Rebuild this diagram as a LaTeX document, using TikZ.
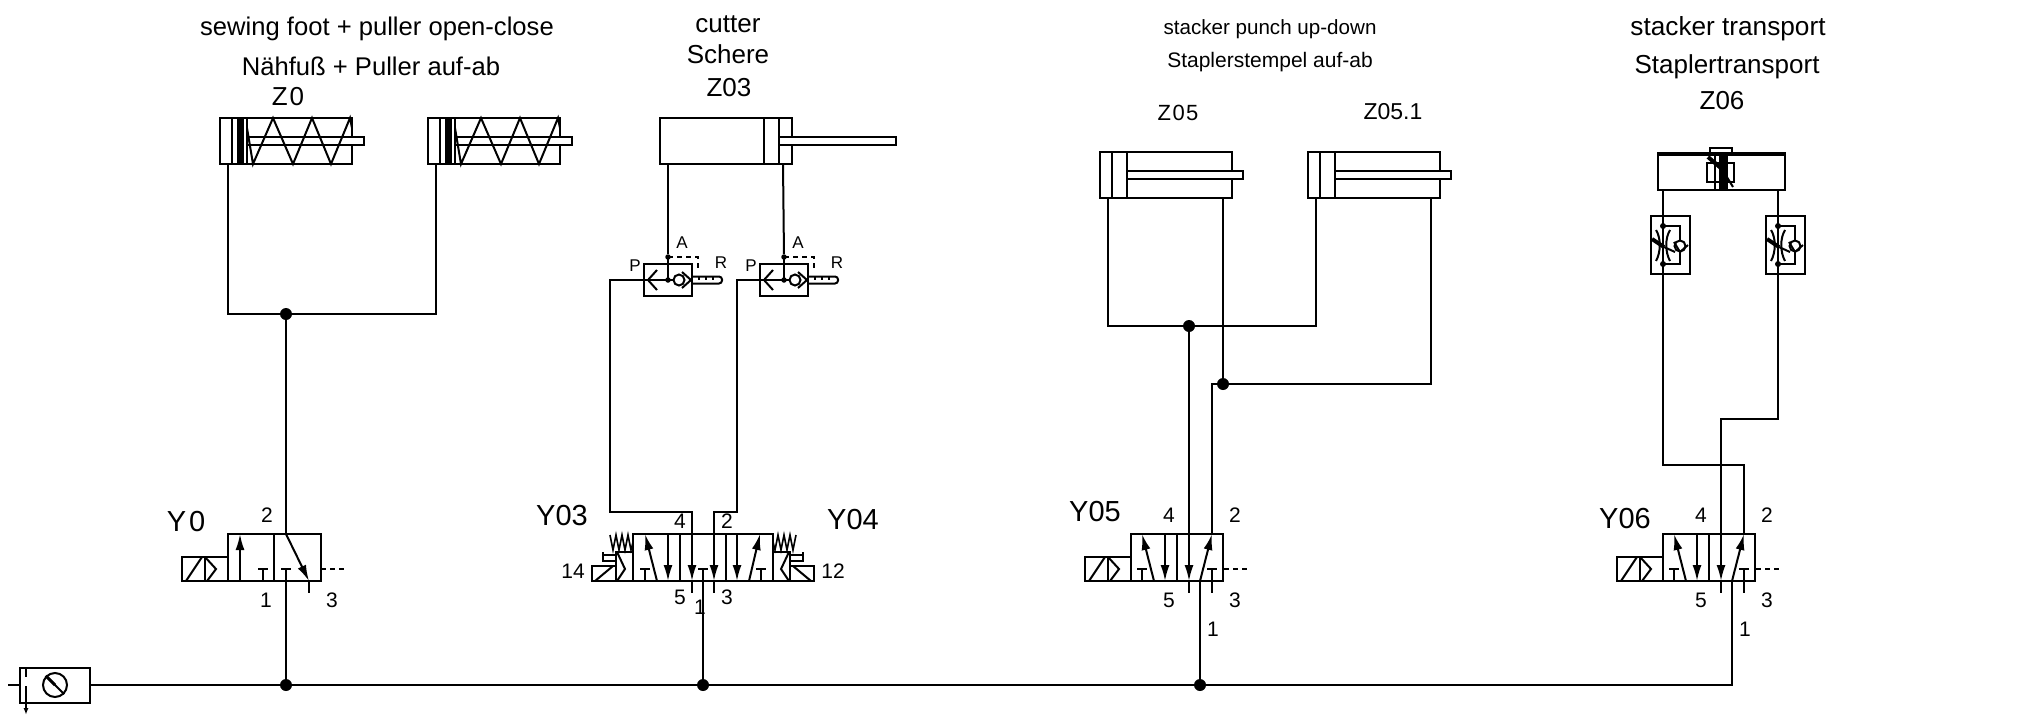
\documentclass[tikz,border=0pt]{standalone}
\usepackage{fontspec}
\setmainfont{Liberation Sans}
\usepackage{tikz}
\usetikzlibrary{arrows.meta}

\tikzset{
    pipe/.style={line width=2pt, line join=miter},
    thin pipe/.style={line width=1.6pt},
    flow/.style={pipe, -{Latex[length=16pt, width=9pt]}},
    dot/.style={circle, fill=black, inner sep=0pt, minimum size=#1},
    dot/.default=12pt,
    dashes/.style={pipe, dash pattern=on 5pt off 4pt},
    title/.style={inner sep=0pt, font=\fontsize{#1}{#1}\selectfont},
    title/.default=24,
    port/.style={inner sep=0pt, font=\fontsize{21}{21}\selectfont},
    tag/.style={inner sep=0pt, font=\fontsize{29}{29}\selectfont},
    letter/.style={inner sep=0pt, font=\fontsize{17}{17}\selectfont},
    % cylinder: first bar, second bar, end of the rod
    pics/cyl/.style n args={3}{code={
        \draw[pipe] (0,0) rectangle (132,46);
        \draw[pipe] (#1,0) -- (#1,46);
        \draw[pipe] (#2,0) -- (#2,46);
        \draw[pipe, fill=white] (#2,19) rectangle (#3,27);
        \coordinate (-a) at (8,46);
        \coordinate (-b) at (123,46);
    }},
    pics/spring/.style={code={
        \fill (17,0) rectangle (24,46);
        \draw[pipe] (27,10) -- (33,46) -- (53,0) -- (73,46) -- (92,0) -- (111,46) -- (130,0) -- (132,10);
    }},
    pics/t/.style={code={
        \draw[thin pipe] (-5,35) -- (5,35);
        \draw[thin pipe] (0,35) -- (0,47);
    }},
    % solenoid and exhaust of a single valve
    pics/coil/.style={code={
        \draw[pipe] (0,23) -- (-46.5,23) -- (-46.5,47) -- (0,47);
        \draw[pipe] (-23,23) -- (-23,47);
        \draw[pipe] (-42,47) -- (-26,23);
        \draw[pipe] (-23,23) -- (-12,35) -- (-21,47);
        \draw[dashes] (93,35) -- (118,35);
    }},
    pics/three/.style={code={
        \draw[pipe] (0,0) rectangle (93,47);
        \draw[pipe] (46,0) -- (46,47);
        \pic at (0,0) {coil};
        \draw[flow] (12,47) -- (12,0);
        \pic at (35,0) {t};
        \pic at (58,0) {t};
        \draw[flow] (58,0) -- (81,47);
        \draw[pipe] (81,47) -- (81,59);
        \coordinate (-a) at (58,0);
        \coordinate (-p) at (58,47);
    }},
    pics/five/.style={code={
        \draw[pipe] (0,0) rectangle (92,47);
        \draw[pipe] (46,0) -- (46,47);
        \pic at (0,0) {coil};
        \draw[flow] (23,47) -- (11,0);
        \pic at (11,0) {t};
        \draw[flow] (34,0) -- (34,47);
        \draw[flow] (58,0) -- (58,47);
        \draw[pipe] (58,47) -- (58,59);
        \draw[flow] (69,47) -- (81,0);
        \pic at (81,0) {t};
        \draw[thin pipe] (81,47) -- (81,59);
        \coordinate (-a) at (58,0);
        \coordinate (-b) at (81,0);
        \coordinate (-p) at (69,47);
    }},
    % pilot head of the double valve
    pics/head/.style={code={
        \draw[pipe] (0,18) -- (-17,18) -- (-17,47);
        \draw[pipe] (-17,32) -- (-41,32) -- (-41,47) -- (0,47);
        \draw[pipe] (-38,47) -- (-20,32);
        \draw[pipe] (-16,18) -- (-8,35) -- (-16,47);
        \draw[pipe] (-30,18) -- (-30,28);
        \draw[pipe] (-30,21) -- (-17,21);
        \draw[pipe] (-30,27) -- (-17,27);
        \draw[thin pipe] (-23,1) -- (-20,16) -- (-17,1) -- (-14,16) -- (-11,1) -- (-8,16) -- (-5,1) -- (-2,16) -- (0,8);
    }},
    pics/double/.style={code={
        \draw[pipe] (0,47) -- (0,0) -- (140,0) -- (140,47) -- cycle;
        \draw[pipe] (47,0) -- (47,47);
        \draw[pipe] (93,0) -- (93,47);
        \pic at (0,0) {head};
        \pic[xscale=-1] at (140,0) {head};
        \draw[flow] (24,47) -- (12,0);
        \pic at (12,0) {t};
        \draw[flow] (35,0) -- (35,47);
        \draw[flow] (59,0) -- (59,47);
        \draw[pipe] (59,47) -- (59,59);
        \pic at (70,0) {t};
        \draw[flow] (81,0) -- (81,47);
        \draw[pipe] (81,47) -- (81,59);
        \draw[flow] (104,0) -- (104,47);
        \draw[flow] (116,47) -- (127,0);
        \pic at (128,0) {t};
        \coordinate (-a) at (59,0);
        \coordinate (-b) at (81,0);
        \coordinate (-p) at (70,47);
    }},
    % quick exhaust valve
    pics/quick/.style={code={
        \draw[pipe] (0,0) rectangle (48,32);
        \draw[pipe] (0,16) -- (29,16);
        \draw[pipe] (13,6) -- (4,16) -- (13,26);
        \draw[pipe] (24,-7) -- (24,16);
        \node[dot=5.5pt] (-top) at (24,-7) {};
        \node[dot=5.5pt] (-mid) at (24,16) {};
        \draw[pipe] (35,16) circle (5.5);
        \draw[pipe] (38,8) -- (47,16) -- (38,24);
        \draw[dashes] (24,-7) -- (54,-7) -- (54,5);
        \draw[pipe, rounded corners=3pt] (48,12.5) -- (78,12.5) -- (78,19.5) -- (48,19.5);
        \foreach \tick in {55,62,69} {
            \draw[thin pipe] (\tick,12.5) -- (\tick,16);
        }
        \coordinate (-a) at (0,16);
    }},
    % throttle with bypass
    pics/throttle/.style={code={
        \draw[pipe] (0,0) rectangle (39,58);
        \draw[pipe] (12,0) -- (12,58);
        \draw[pipe] (12,10) -- (29,10) -- (29,24.5);
        \draw[pipe] (29,35.5) -- (29,48) -- (12,48);
        \node[dot=6pt] (-top) at (12,10) {};
        \node[dot=6pt] (-bot) at (12,48) {};
        \draw[pipe] (29,30) circle (5.5);
        \draw[pipe] (23,26) -- (29,36) -- (37,29);
        \draw[pipe] (5,14) .. controls (10,22) and (10,36) .. (5,45);
        \draw[pipe] (19,14) .. controls (14,22) and (14,36) .. (19,45);
        \draw[line width=4pt] (1,23) -- (13,31);
        \draw[pipe] (13,31) -- (24,36);
        \coordinate (-a) at (12,0);
        \coordinate (-b) at (12,58);
    }},
}

\begin{document}
\begin{tikzpicture}[x=1pt, y=-1pt]
    \useasboundingbox (0,0) rectangle (2044,716);

    % Headings
    \node[title=25.6] (t0a) at (377,29) {sewing foot + puller open-close};
    \node[title=25.6] (t0b) at (371,66) {Nähfuß + Puller auf-ab};
    \node[title=26] (t0c) at (288,97) {Z\kern2pt 0};
    \node[title=26] (t3a) at (728,24) {cutter};
    \node[title=26] (t3b) at (728,54) {Schere};
    \node[title=26] (t3c) at (729,88) {Z03};
    \node[title=20.6] (t5a) at (1270,29) {stacker punch up-down};
    \node[title=21] (t5b) at (1270,62) {Staplerstempel auf-ab};
    \node[title=22] (t5c) at (1178,113) {Z\kern1.5pt 0\kern1.5pt 5};
    \node[title=23] (t5d) at (1393,112) {Z05.1};
    \node[title=26.2] (t6a) at (1728,29) {stacker transport};
    \node[title=26] (t6b) at (1727,67) {Staplertransport};
    \node[title=26] (t6c) at (1722,101) {Z06};

    % Cylinders
    \pic (Za) at (220,118) {cyl={12}{27}{144}};
    \pic at (220,118) {spring};
    \pic (Zb) at (428,118) {cyl={12}{27}{144}};
    \pic at (428,118) {spring};
    \pic (Zc) at (660,118) {cyl={104}{119}{236}};
    \pic (Zd) at (1100,152) {cyl={12}{27}{143}};
    \pic (Ze) at (1308,152) {cyl={12}{27}{143}};

    % Stacker transport cylinder
    \draw[pipe] (1658,154) rectangle (1785,190);
    \draw[line width=3.5pt] (1657,154) -- (1786,154);
    \draw[pipe] (1710,154) -- (1710,148) -- (1732,148) -- (1732,154);
    \draw[pipe] (1707,163) rectangle (1734,182);
    \draw[pipe] (1715,154) -- (1715,190);
    \draw[line width=7pt] (1722,154) -- (1722,190);
    \draw[pipe] (1727,154) -- (1727,190);
    \draw[line width=4pt] (1708,157) -- (1722,169);
    \draw[pipe] (1722,169) -- (1733,187);
    \coordinate (Zf-a) at (1663,190);
    \coordinate (Zf-b) at (1778,190);

    % Exhaust and throttle valves
    \pic (Qa) at (644,264) {quick};
    \pic (Qb) at (760,264) {quick};
    \pic (Ta) at (1651,216) {throttle};
    \pic (Tb) at (1766,216) {throttle};

    % Directional valves
    \pic (Ya) at (228,534) {three};
    \pic (Yb) at (633,534) {double};
    \pic (Yc) at (1131,534) {five};
    \pic (Yd) at (1663,534) {five};

    % Maintenance unit
    \node[draw, pipe, minimum width=70pt, minimum height=35pt, inner sep=0pt] (src) at (55,685) {};
    \node[draw, pipe, circle, minimum size=24pt, inner sep=0pt] (gauge) at (55,685) {};
    \draw[pipe] (gauge.north west) -- (gauge.south east);
    \draw[line width=3pt] (gauge.north west) -- (gauge.center);
    \coordinate (inlet) at (8,685);
    \coordinate (drainA) at (26,667);
    \coordinate (drainB) at (26,677);
    \coordinate (drainC) at (26,686);
    \coordinate (drainD) at (26,715);
    \draw[pipe] (inlet) -- (inlet -| src.west);
    \draw[pipe] (drainA) -- (drainB);
    \draw[pipe, -{Latex[length=7pt, width=5pt]}] (drainC) -- (drainD);

    % Joints
    \node[dot] (ja) at (286,685) {};
    \node[dot] (jb) at (703,685) {};
    \node[dot] (jc) at (1200,685) {};
    \node[dot] (jd) at (286,314) {};
    \node[dot] (je) at (1189,326) {};
    \node[dot] (jf) at (1223,384) {};
    \coordinate (bendA) at (610,512);
    \coordinate (bendB) at (737,512);
    \coordinate (bendC) at (1212,384);
    \coordinate (bendD) at (1721,419);
    \coordinate (bendE) at (1744,465);
    \coordinate (bendF) at (1663,465);

    % Connectors
    \draw[pipe] (src.east) -- (ja) -- (jb) -- (jc) -- (Yd-p |- jc) -- (Yd-p);
    \draw[pipe] (ja) -- (Ya-p);
    \draw[pipe] (jb) -- (Yb-p);
    \draw[pipe] (jc) -- (Yc-p);
    \draw[pipe] (Za-a) |- (jd) -| (Zb-a);
    \draw[pipe] (jd) -- (Ya-a);
    \draw[pipe] (Zc-a) -- (Qa-top);
    \draw[pipe] (Zc-b) -- (Qb-top);
    \draw[pipe] (Qa-a) -| (bendA) -- (bendA -| Yb-a) -- (Yb-a);
    \draw[pipe] (Qb-a) -| (bendB) -- (bendB -| Yb-b) -- (Yb-b);
    \draw[pipe] (Zd-a) |- (je) -| (Ze-a);
    \draw[pipe] (je) -- (Yc-a);
    \draw[pipe] (Zd-b) -- (jf);
    \draw[pipe] (Ze-b) |- (bendC) -- (Yc-b);
    \draw[pipe] (Zf-a) -- (Ta-a);
    \draw[pipe] (Zf-b) -- (Tb-a);
    \draw[pipe] (Ta-b) -- (bendF) -- (bendE) -- (Yd-b);
    \draw[pipe] (Tb-b) |- (bendD) -- (Yd-a);

    % Valve names
    \node[tag] (ya) at (186,522) {Y\kern3pt 0};
    \node[tag] (yb) at (562,516) {Y03};
    \node[tag] (yc) at (853,520) {Y04};
    \node[tag] (yd) at (1095,512) {Y05};
    \node[tag] (ye) at (1625,519) {Y06};

    % Port numbers
    \node[port] (a2) at (267,515) {2};
    \node[port] (a1) at (266,600) {1};
    \node[port] (a3) at (332,600) {3};
    \node[port] (b4) at (680,521) {4};
    \node[port] (b2) at (727,521) {2};
    \node[port] (b5) at (680,597) {5};
    \node[port] (b3) at (727,597) {3};
    \node[port] (b1) at (700,607) {1};
    \node[port] (b14) at (573,571) {14};
    \node[port] (b12) at (833,571) {12};
    \node[port] (c4) at (1169,515) {4};
    \node[port] (c2) at (1235,515) {2};
    \node[port] (c5) at (1169,600) {5};
    \node[port] (c3) at (1235,600) {3};
    \node[port] (c1) at (1213,629) {1};
    \node[port] (d4) at (1701,515) {4};
    \node[port] (d2) at (1767,515) {2};
    \node[port] (d5) at (1701,600) {5};
    \node[port] (d3) at (1767,600) {3};
    \node[port] (d1) at (1745,629) {1};

    % Exhaust valve letters
    \node[letter] (pa) at (635,266) {P};
    \node[letter] (aa) at (682,243) {A};
    \node[letter] (ra) at (721,263) {R};
    \node[letter] (pb) at (751,266) {P};
    \node[letter] (ab) at (798,243) {A};
    \node[letter] (rb) at (837,263) {R};
\end{tikzpicture}
\end{document}
